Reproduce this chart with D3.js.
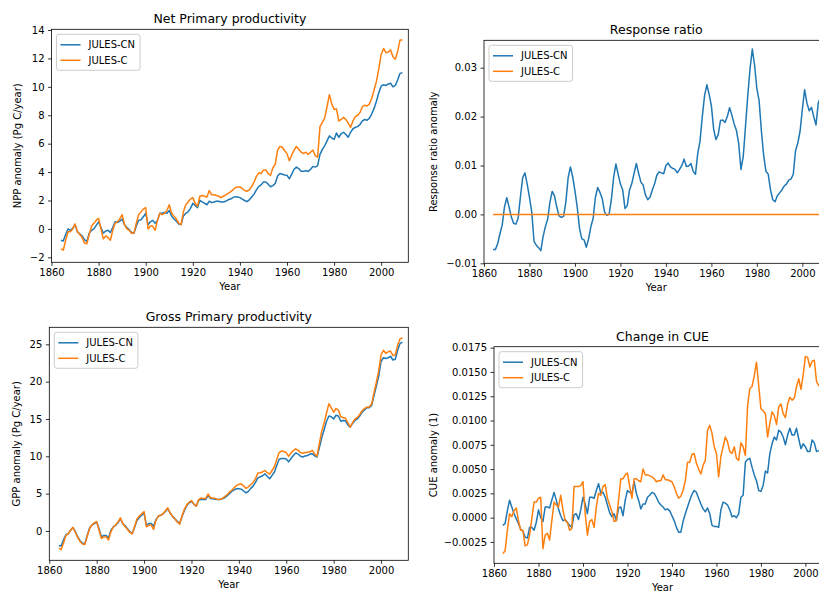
<!DOCTYPE html>
<html>
<head>
<meta charset="utf-8">
<script src="https://cdn.jsdelivr.net/npm/d3@7"></script>
<style>
  html, body { margin: 0; padding: 0; background: #fff; overflow: hidden; }
  svg { display: block; font-family: "DejaVu Sans", sans-serif; }
</style>
</head>
<body>
<svg id="chart" width="819" height="591"></svg>
<script>
// Annual values, 1864-2009
const firstYear = 1864;
const lastYear = 2009;
const years = d3.range(firstYear, lastYear + 1);

const seriesNames = ["JULES-CN", "JULES-C"];
const xTicks = [1860, 1880, 1900, 1920, 1940, 1960, 1980, 2000];

// Net primary productivity anomaly (Pg C/year)
const nppCN = [
  -0.8, -0.85, -0.4, 0.0, -0.1, 0.05,
  0.3, -0.2, -0.35, -0.5, -0.75, -0.9, -0.3, -0.1, 0.0, 0.25,
  0.5, 0.1, -0.3, -0.15, -0.1, -0.25, 0.1, 0.5, 0.45, 0.55,
  0.7, 0.3, 0.1, -0.05, -0.25, -0.3, 0.2, 0.6, 0.65, 0.85,
  1.1, 0.3, 0.5, 0.6, 0.4, 0.6, 1.1, 1.1, 1.15, 1.1,
  1.3, 0.9, 0.7, 0.55, 0.35, 0.3, 0.9, 1.1, 1.2, 1.45,
  1.8, 1.65, 1.5, 2.0, 1.9, 1.8, 1.7, 1.95, 1.85, 1.9,
  1.95, 1.95, 1.9, 1.9, 1.95, 2.05, 2.1, 2.2, 2.27, 2.25,
  2.2, 2.1, 2.0, 1.92, 2.05, 2.25, 2.45, 2.75, 3.0, 3.1,
  3.3, 3.3, 3.15, 2.97, 3.05, 3.2, 3.72, 3.9, 3.85, 3.8,
  3.77, 3.53, 3.85, 4.2, 4.35, 4.25, 4.05, 4.05, 4.1, 4.05,
  4.2, 4.4, 4.35, 4.45, 5.25, 5.6, 5.85, 6.2, 6.55, 6.4,
  6.3, 6.75, 6.45, 6.7, 6.8, 6.65, 6.45, 6.8, 7.05, 7.15,
  7.2, 7.35, 7.6, 7.7, 7.65, 7.8, 8.1, 8.5, 9.0, 9.6,
  10.05, 10.15, 10.1, 10.2, 10.25, 10.0, 10.1, 10.5, 10.95, 11.0
];
const nppC = [
  -1.4, -1.5, -0.8, -0.2, -0.2, 0.0,
  0.35, -0.2, -0.4, -0.6, -1.0, -1.05, -0.4, 0.2, 0.4, 0.6,
  0.75, 0.0, -0.7, -0.5, -0.6, -0.8, -0.1, 0.4, 0.5, 0.7,
  1.0, 0.3, 0.0, -0.1, -0.3, -0.3, 0.4, 1.0, 1.2, 1.4,
  1.5, 0.0, 0.2, 0.2, -0.1, 0.6, 1.1, 1.0, 1.1, 1.3,
  1.7, 1.1, 0.9, 0.7, 0.4, 0.3, 1.2, 1.7, 1.9, 2.1,
  2.2, 1.8, 1.6, 2.3, 2.35, 2.3, 2.25, 2.7, 2.4, 2.4,
  2.35, 2.3, 2.2, 2.3, 2.4, 2.5, 2.6, 2.75, 2.9, 2.95,
  2.95, 2.85, 2.7, 2.65, 2.75, 3.0, 3.3, 3.7, 3.95, 3.9,
  4.15, 4.15, 3.9, 3.77, 4.3, 4.55, 5.55, 5.8, 5.75, 5.5,
  5.3, 4.8, 5.2, 5.55, 5.8, 5.6, 5.4, 5.3, 5.4, 5.25,
  5.4, 5.55, 5.15, 5.05, 7.2, 7.5, 7.8, 8.6, 9.45, 8.8,
  8.4, 8.45, 7.6, 7.7, 7.85, 7.7, 7.45, 7.15, 7.6, 7.9,
  8.0, 8.2, 8.6, 8.7, 8.65, 8.8, 9.2, 9.8, 10.4, 11.3,
  12.3, 12.7, 12.4, 12.45, 12.6, 12.1, 11.95, 12.5, 13.3, 13.3
];

// Response ratio anomaly
const rrCN = [
  -0.0072, -0.0072, -0.006, -0.004, -0.0022, 0.0015,
  0.0034, 0.0016, -0.0005, -0.0018, -0.002, -0.0008, 0.0035, 0.0075, 0.0085, 0.0062,
  0.0035, 0.0005, -0.0055, -0.0063, -0.0068, -0.0074, -0.0045, -0.0025, -0.001, 0.0025,
  0.0047, 0.0038, 0.0015, -0.0003, -0.0006, -0.0004, 0.0025, 0.0075, 0.0097, 0.0077,
  0.0048, 0.0015, -0.0028, -0.005, -0.0052, -0.0067, -0.005, -0.0025, -0.0008, 0.0035,
  0.0055, 0.0045, 0.0032, 0.0005, -0.0002, 0.0, 0.003, 0.0075, 0.0103, 0.0082,
  0.0062, 0.005, 0.0012, 0.0018, 0.005, 0.0063, 0.0084, 0.0104, 0.0084, 0.0066,
  0.006, 0.004, 0.003, 0.0035, 0.005, 0.0062, 0.008, 0.0087, 0.0085, 0.0083,
  0.01, 0.0105, 0.0097, 0.0094, 0.0092, 0.0085, 0.0092, 0.01, 0.0113, 0.0098,
  0.0099, 0.0104, 0.0088, 0.0082, 0.0125, 0.015, 0.02, 0.0243, 0.0265, 0.0246,
  0.0222, 0.0174, 0.0153, 0.0163, 0.0192, 0.0193, 0.0188, 0.02, 0.0218, 0.0203,
  0.0185, 0.0172, 0.0145, 0.0092, 0.0118, 0.018, 0.0243, 0.0298, 0.0338, 0.0305,
  0.0257, 0.0232, 0.017, 0.012, 0.0088, 0.0082, 0.005, 0.003, 0.0026, 0.0038,
  0.0044, 0.005, 0.0058, 0.0062, 0.007, 0.0072, 0.0082, 0.013, 0.0146, 0.017,
  0.0215, 0.0255, 0.0228, 0.0212, 0.0219, 0.02, 0.0183, 0.0228, 0.024, 0.0235
];
const rrC = [
  0, 0, 0, 0, 0, 0,
  0, 0, 0, 0, 0, 0, 0, 0, 0, 0,
  0, 0, 0, 0, 0, 0, 0, 0, 0, 0,
  0, 0, 0, 0, 0, 0, 0, 0, 0, 0,
  0, 0, 0, 0, 0, 0, 0, 0, 0, 0,
  0, 0, 0, 0, 0, 0, 0, 0, 0, 0,
  0, 0, 0, 0, 0, 0, 0, 0, 0, 0,
  0, 0, 0, 0, 0, 0, 0, 0, 0, 0,
  0, 0, 0, 0, 0, 0, 0, 0, 0, 0,
  0, 0, 0, 0, 0, 0, 0, 0, 0, 0,
  0, 0, 0, 0, 0, 0, 0, 0, 0, 0,
  0, 0, 0, 0, 0, 0, 0, 0, 0, 0,
  0, 0, 0, 0, 0, 0, 0, 0, 0, 0,
  0, 0, 0, 0, 0, 0, 0, 0, 0, 0,
  0, 0, 0, 0, 0, 0, 0, 0, 0, 0
];

// Gross primary productivity anomaly (Pg C/year)
const gppCN = [
  -1.95, -2.0, -1.2, -0.5, -0.35, 0.1,
  0.45, -0.1, -0.8, -1.3, -1.65, -1.7, -0.6, 0.4, 0.8, 1.0,
  1.2, 0.3, -0.8, -0.6, -0.6, -0.9, 0.1, 0.55, 0.75, 1.1,
  1.65, 1.0, 0.7, 0.3, -0.1, -0.35, 0.5, 1.4, 1.8, 2.1,
  2.4, 0.75, 1.0, 1.0, 0.65, 1.5, 2.0, 2.1, 2.3, 2.6,
  3.0, 2.4, 1.95, 1.65, 1.3, 1.0, 1.9, 2.75, 3.4, 3.75,
  3.95, 3.6, 3.3, 4.1, 4.25, 4.2, 4.2, 4.75, 4.35, 4.3,
  4.25, 4.2, 4.2, 4.3, 4.45, 4.7, 5.0, 5.3, 5.5, 5.65,
  5.67, 5.6, 5.35, 5.1, 5.3, 5.7, 6.0, 6.5, 7.1, 7.25,
  7.4, 7.65, 7.3, 7.0, 7.45, 7.9, 8.8, 9.6, 9.7, 9.7,
  9.65, 9.25, 9.7, 10.1, 10.45, 10.3, 10.0, 9.9, 10.05, 10.1,
  10.3, 10.35, 10.05, 9.9, 11.2, 12.5, 13.6, 14.7, 15.4, 15.3,
  15.0, 15.5, 15.4, 14.7, 14.8, 14.75, 14.2, 13.9, 14.4, 14.8,
  15.0, 15.4, 15.9, 16.2, 16.5, 16.5, 16.8, 18.1, 19.4, 20.7,
  22.7, 23.2, 23.1, 23.2, 23.4, 22.9, 23.0, 24.2, 25.1, 25.3
];
const gppC = [
  -2.3, -2.5, -1.6, -0.6, -0.4, 0.1,
  0.5, -0.2, -0.9, -1.4, -1.75, -1.8, -0.7, 0.3, 0.8, 1.1,
  1.25, 0.1, -1.0, -0.8, -0.8, -1.2, -0.1, 0.5, 0.8, 1.2,
  1.75, 1.0, 0.6, 0.2, -0.2, -0.4, 0.6, 1.6, 2.0, 2.3,
  2.6, 0.55, 0.75, 0.8, 0.2, 1.4, 2.0, 2.1, 2.3, 2.7,
  3.1, 2.4, 1.95, 1.6, 1.2, 0.9, 2.0, 2.9, 3.5, 3.85,
  4.05, 3.6, 3.3, 4.2, 4.4, 4.35, 4.35, 4.95, 4.45, 4.4,
  4.35, 4.25, 4.2, 4.35, 4.6, 4.85, 5.2, 5.45, 5.8, 6.1,
  6.25, 6.3, 6.05, 5.7, 5.9, 6.2, 6.5, 7.0, 7.75, 7.8,
  7.9, 8.1, 7.8, 7.6, 8.1, 8.6, 9.6, 10.5, 10.7, 10.65,
  10.5, 10.0, 10.45, 10.8, 11.0, 10.8, 10.5, 10.4, 10.5, 10.55,
  10.6, 10.8, 10.3, 10.0, 11.8, 13.4, 14.5, 15.8, 17.05, 16.5,
  15.9, 16.4, 16.2, 15.3, 15.2, 15.1, 14.5, 13.9, 14.5, 15.0,
  15.2, 15.6, 16.1, 16.4, 16.6, 16.6, 17.0, 18.5, 19.9, 21.4,
  23.6, 24.2, 23.8, 24.0, 24.1, 23.5, 23.6, 24.9, 25.7, 25.9
];

// Carbon use efficiency anomaly (1)
const cueCN = [
  -0.0008, -0.0006, 0.0007, 0.0018, 0.0011, 0.0004,
  -0.0001, -0.0006, -0.0012, -0.0014, -0.002, -0.0021, -0.001, -0.001, -0.0013, -0.0005,
  0.0008, 0.0, -0.0004, 0.0011, 0.0011, 0.001, 0.0018, 0.0026, 0.0018, 0.0009,
  0.0002, -0.0003, -0.0002, -0.0005, -0.0008, -0.001, 0.0003, 0.0004, -0.0002, 0.0008,
  0.0021, 0.0014, 0.0004, 0.0021, 0.0021, 0.002, 0.0028, 0.0035, 0.0025, 0.0026,
  0.0021, 0.0013, 0.0005, 0.0001, 0.0004, -0.0003, 0.001, 0.0011, 0.0002, 0.0018,
  0.0028, 0.0026, 0.0025, 0.0037, 0.0025, 0.0018, 0.0009, 0.0014, 0.0014, 0.0021,
  0.0023, 0.0026, 0.0025, 0.0021, 0.0016, 0.0013, 0.0011, 0.0008, 0.0009, 0.0007,
  0.0002, -0.0003, -0.001, -0.0015, -0.0015, -0.0004, 0.0004, 0.0011, 0.0018, 0.0024,
  0.0028, 0.0026, 0.002, 0.0014, 0.0009, 0.0006, 0.001, 0.0004, -0.0008, -0.0009,
  -0.0009, -0.001, 0.0008, 0.0016, 0.0015, 0.0013, 0.0008, 0.0001, 0.0002, 0.0,
  0.0004, 0.0021, 0.0023, 0.0057, 0.006, 0.0061, 0.0052, 0.0044, 0.0038, 0.0028,
  0.0027, 0.0033, 0.0048, 0.0046, 0.0066, 0.0076, 0.0083, 0.008, 0.009, 0.0088,
  0.0083, 0.0075, 0.0085, 0.0092, 0.0085, 0.0085, 0.0092, 0.0081, 0.0071, 0.0076,
  0.0073, 0.0068, 0.0068, 0.008, 0.0077, 0.0068, 0.0069, 0.007, 0.0071, 0.007
];
const cueC = [
  -0.0037, -0.0034, -0.0013, 0.0004, 0.0001, 0.0007,
  0.001, -0.0003, -0.0013, -0.0013, -0.0029, -0.0028, -0.0018, -0.0001, 0.0016, 0.0016,
  0.002, 0.0021, -0.0032, -0.0018, -0.0016, -0.0023, -0.0003, 0.0016, 0.0013, 0.0011,
  0.0023, 0.0008, -0.0003, -0.0005, -0.0013, -0.0011, 0.0032, 0.0032, 0.0032, 0.0033,
  0.0037, 0.0004, -0.0018, -0.0004, -0.0002, -0.001, 0.0011, 0.0025, 0.0023, 0.0032,
  0.0034, 0.002, 0.0013, 0.0006, -0.0004, -0.0003, 0.0018, 0.004, 0.004, 0.0044,
  0.0046, 0.0032, 0.002, 0.004, 0.004, 0.0038, 0.0037, 0.005, 0.0044, 0.0044,
  0.0043, 0.0042, 0.004, 0.0037, 0.0038, 0.0038, 0.0044, 0.0039, 0.0039, 0.0038,
  0.0037, 0.0032, 0.0025, 0.002, 0.0022, 0.0028, 0.0038, 0.0057, 0.0057, 0.0065,
  0.0066, 0.0056, 0.005, 0.0045, 0.0054, 0.0059, 0.009, 0.0095, 0.0087, 0.0073,
  0.0066, 0.0042, 0.0063, 0.0073, 0.0083, 0.0078, 0.0068, 0.0066, 0.0073, 0.0061,
  0.0059, 0.0077, 0.0073, 0.0064, 0.0115, 0.0133, 0.0135, 0.0146, 0.016, 0.0136,
  0.0112, 0.011, 0.0107, 0.0083, 0.0097, 0.0109, 0.0105, 0.0096, 0.0114, 0.0117,
  0.0107, 0.0103, 0.0117, 0.0124, 0.0121, 0.0123, 0.0135, 0.0143, 0.0132, 0.0147,
  0.0166, 0.0165, 0.0155, 0.0161, 0.0162, 0.014, 0.0136, 0.0138, 0.014, 0.0139
];

// Tick values for each y axis
const nppTicks = [-2, 0, 2, 4, 6, 8, 10, 12, 14];
const rrTicks = [-0.01, 0.0, 0.01, 0.02, 0.03];
const gppTicks = [0, 5, 10, 15, 20, 25];
const cueTicks = [-0.0025, 0.0, 0.0025, 0.005, 0.0075, 0.01, 0.0125, 0.015, 0.0175];

// Panel layout (plot area in pixels) and styling
const colors = ["#1f77b4", "#ff7f0e"];
const panels = [
  { title: "Net Primary productivity", ylabel: "NPP anomaly (Pg C/year)",
    series: [nppCN, nppC], yDomain: [-2.35, 14.05], yTicks: nppTicks, fmt: "d",
    left: 51.5, right: 408.3, top: 29.3, bottom: 262.3, ylabelX: 17 },
  { title: "Response ratio", ylabel: "Response ratio anomaly",
    series: [rrCN, rrC], yDomain: [-0.01, 0.0356], yTicks: rrTicks, fmt: ".2f",
    left: 484, right: 828.5, top: 40.3, bottom: 263.3, ylabelX: 433 },
  { title: "Gross Primary productivity", ylabel: "GPP anomaly (Pg C/year)",
    series: [gppCN, gppC], yDomain: [-3.93, 27.28], yTicks: gppTicks, fmt: "d",
    left: 49.3, right: 408.3, top: 327.3, bottom: 560.3, ylabelX: 16 },
  { title: "Change in CUE", ylabel: "CUE anomaly (1)",
    series: [cueCN, cueC], yDomain: [-0.0047, 0.0176], yTicks: cueTicks, fmt: ".4f",
    left: 494, right: 831, top: 346.7, bottom: 563.3, ylabelX: 433 }
];

const svg = d3.select("#chart");
const defs = svg.append("defs");

panels.forEach((p, i) => {
  const x = d3.scaleLinear().domain([1860, 2011.5]).range([p.left, p.right]);
  const y = d3.scaleLinear().domain(p.yDomain).range([p.bottom, p.top]);
  const g = svg.append("g");

  defs.append("clipPath").attr("id", "clip" + i)
    .append("rect")
    .attr("x", p.left).attr("y", p.top)
    .attr("width", p.right - p.left).attr("height", p.bottom - p.top);

  // data lines
  const line = d3.line()
    .x((d, j) => x(years[j]))
    .y(d => y(d));
  const lines = g.append("g").attr("clip-path", `url(#clip${i})`);
  p.series.forEach((s, k) => {
    lines.append("path")
      .datum(s)
      .attr("d", line)
      .attr("fill", "none")
      .attr("stroke", colors[k])
      .attr("stroke-width", 1.5)
      .attr("stroke-linejoin", "round")
      .attr("stroke-linecap", "butt");
  });

  // axes
  const xAxis = d3.axisBottom(x).tickValues(xTicks)
    .tickFormat(d3.format("d")).tickSize(3.5).tickPadding(3.5);
  const yAxis = d3.axisLeft(y).tickValues(p.yTicks)
    .tickFormat(d3.format(p.fmt)).tickSize(3.5).tickPadding(3.5);

  const gx = g.append("g").attr("transform", `translate(0,${p.bottom})`).call(xAxis);
  const gy = g.append("g").attr("transform", `translate(${p.left},0)`).call(yAxis);
  [gx, gy].forEach(a => {
    a.select(".domain").remove();
    a.selectAll(".tick line").attr("stroke", "#000").attr("stroke-width", 0.8);
    a.selectAll(".tick text").attr("fill", "#000").style("font-size", "10px")
      .style("font-family", "DejaVu Sans");
  });

  // spines
  g.append("rect")
    .attr("x", p.left).attr("y", p.top)
    .attr("width", p.right - p.left).attr("height", p.bottom - p.top)
    .attr("fill", "none").attr("stroke", "#000").attr("stroke-width", 0.8);

  // title and labels
  const cx = (p.left + p.right) / 2;
  g.append("text").attr("x", cx).attr("y", p.top - 6)
    .attr("text-anchor", "middle").style("font-size", "12.5px")
    .text(p.title);
  g.append("text").attr("x", cx).attr("y", p.bottom + 27.5)
    .attr("text-anchor", "middle").style("font-size", "10px")
    .text("Year");
  g.append("text")
    .attr("transform", `translate(${p.ylabelX},${(p.top + p.bottom) / 2}) rotate(-90)`)
    .attr("text-anchor", "middle").attr("dy", "0.35em").style("font-size", "10px")
    .text(p.ylabel);

  // legend
  const lx = p.left + 5, ly = p.top + 5;
  const leg = g.append("g");
  const frame = leg.append("rect")
    .attr("x", lx).attr("y", ly).attr("rx", 2.5).attr("ry", 2.5)
    .attr("height", 36)
    .attr("fill", "#fff").attr("fill-opacity", 0.8)
    .attr("stroke", "#ccc").attr("stroke-width", 1);
  let maxW = 0;
  seriesNames.forEach((name, k) => {
    const ry = ly + 10.5 + k * 15.5;
    leg.append("line")
      .attr("x1", lx + 4).attr("x2", lx + 24)
      .attr("y1", ry).attr("y2", ry)
      .attr("stroke", colors[k]).attr("stroke-width", 1.5);
    const t = leg.append("text")
      .attr("x", lx + 32).attr("y", ry).attr("dy", "0.35em")
      .style("font-size", "10px").text(name);
    maxW = Math.max(maxW, t.node().getComputedTextLength());
  });
  frame.attr("width", 32 + maxW + 5);
});
</script>
</body>
</html>
